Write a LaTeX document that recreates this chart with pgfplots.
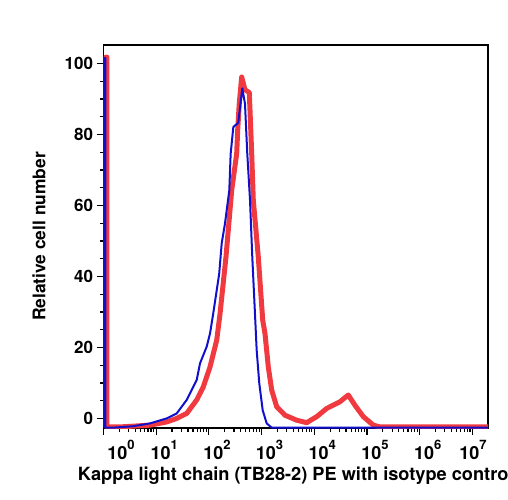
\documentclass[border=0pt]{standalone}
\usepackage{fontspec}
\setmainfont{TeX Gyre Heros}
\usepackage{pgfplots}
\pgfplotsset{compat=1.18}
\definecolor{myred}{RGB}{240,58,64}
\definecolor{myblue}{RGB}{16,16,204}
\newcommand{\decade}[1]{{\fontsize{18bp}{19bp}\selectfont\bfseries 10\raisebox{0.55em}{\fontsize{13bp}{13bp}\selectfont\bfseries #1}}}
\begin{document}
\begin{tikzpicture}
\useasboundingbox (-103.5bp,-72bp) rectangle (404.5bp,428bp);
\begin{axis}[
  scale only axis, width=384.5bp, height=383bp,
  xmode=log, xmin=1, xmax=1.98e7,
  ymin=-2.7, ymax=105.2,
  axis line style={line width=1.3bp},
  tick pos=left, tick align=outside,
  major tick length=7bp, minor tick length=3.5bp,
  every tick/.style={black, line width=1.2bp},
  xtick={1,10,100,1000,1e4,1e5,1e6,1e7},
  xticklabels={\hspace*{19bp}\decade{0},\decade{1},\decade{2},\decade{3},\decade{4},\decade{5},\decade{6},\decade{7}\hspace*{15bp}},
  minor xtick={2,3,4,5,6,7,8,9,20,30,40,50,60,70,80,90,200,300,400,500,600,700,800,900,2e3,3e3,4e3,5e3,6e3,7e3,8e3,9e3,2e4,3e4,4e4,5e4,6e4,7e4,8e4,9e4,2e5,3e5,4e5,5e5,6e5,7e5,8e5,9e5,2e6,3e6,4e6,5e6,6e6,7e6,8e6,9e6},
  ytick={0,20,40,60,80,100},
  minor ytick={5,10,15,25,30,35,45,50,55,65,70,75,85,90,95},
  tick label style={font=\fontsize{17bp}{18bp}\selectfont\bfseries},
  xticklabel style={xshift=8bp, yshift=-2bp},
  /pgf/number format/assume math mode=true,
  every axis x label/.style={at={(axis description cs:0.5,0)}, yshift=-52bp, anchor=base, font=\fontsize{18.2bp}{19bp}\selectfont\bfseries},
  every axis y label/.style={at={(axis description cs:0,0.5)}, xshift=-64.5bp, rotate=90, anchor=center, font=\fontsize{17.4bp}{18bp}\selectfont\bfseries},
  xlabel={Kappa light chain (TB28-2) PE with isotype control},
  ylabel={Relative cell number},
]
\addplot[myred, line width=5bp, line join=round] coordinates {
(1.12,-2.5) (1.12,101.8) (1.16,101.8) (1.16,-2.4) (2.06,-2.4) (7.63,-1.9) (15.8,-1.0) (24.5,0) (37.9,1.4) (58.7,5.2) (78.4,8.9) (105,14.5) (141,22.1) (163,29.6) (211,45.5) (271,64.3) (337,74.6) (352,81.2) (377,88.7) (419,96.2) (484,92.6) (584,91.8) (603,86.8) (649,74.6) (696,61.5) (866,45.5) (1050,27.7) (1161,23.9) (1341,14.5) (1555,8.0) (1935,3.3) (2780,0.9) (4634,-0.5) (7178,-1.2) (11120,0.5) (17180,2.8) (30760,4.7) (44190,6.6) (59160,3.7) (85110,0.5) (131800,-1.9) (176600,-2.4) (1.98e7,-2.4)
};
\addplot[myblue, line width=2bp, line join=round] coordinates {
(1.06,-2.6) (1.06,101.6) (1.09,101.6) (1.09,-2.6) (1.53,-2.6) (3.68,-2.2) (7.63,-1.4) (15.8,0) (24.5,1.4) (37.9,5.2) (58.7,10.8) (67.8,15.5) (90.8,20.2) (105,23.9) (121,29.6) (157,40.8) (175,49.3) (202,54.9) (244,64.3) (259,74.6) (291,82.1) (361,83.3) (430,93.0) (484,88.7) (535,74.6) (603,61.5) (666,45.5) (759,27.7) (807,19.2) (904,9.9) (1050,2.3) (1250,-1.4) (1555,-2.6) (1.98e7,-2.6)
};
\end{axis}
\end{tikzpicture}
\end{document}
